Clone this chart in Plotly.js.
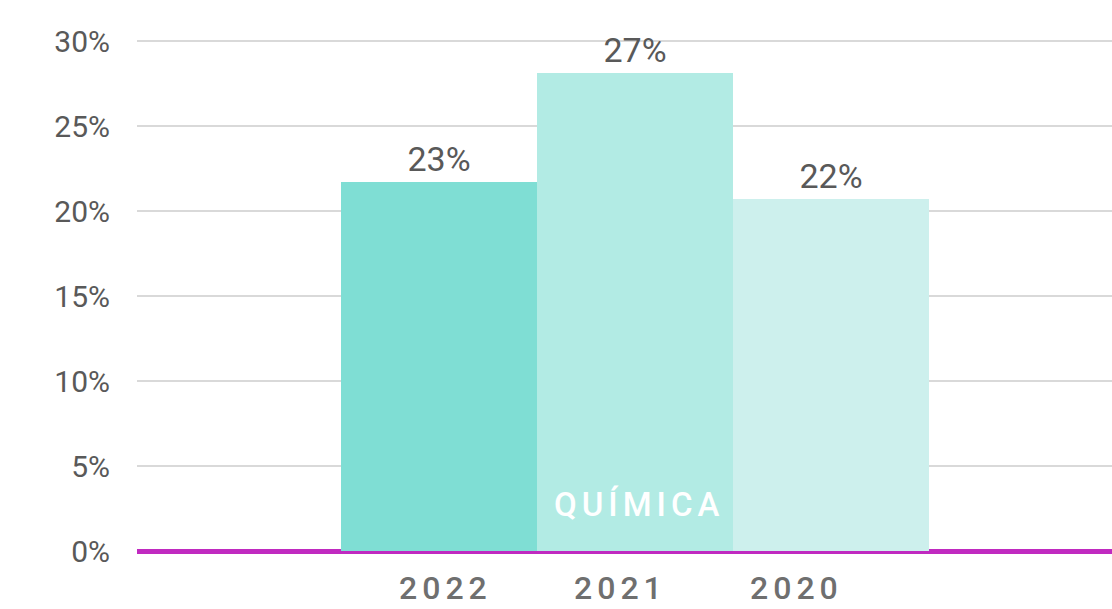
<!DOCTYPE html>
<html>
<head>
<meta charset="utf-8">
<script src="https://cdn.plot.ly/plotly-3.0.1.min.js"></script>
<style>
html,body{margin:0;padding:0;background:#fff;}
#chart{width:1112px;height:609px;}
.annotation-text{letter-spacing:5px;}
#err{position:absolute;left:0;top:0;color:red;font:12px monospace;}
</style>
</head>
<body>
<div id="chart"></div>
<div id="err"></div>
<script>
// Data
const years = ["2022", "2021", "2020"];
const values = [21.7, 28.1, 20.7];
const valueLabels = ["23%", "27%", "22%"];
const barColors = ["#7fded4", "#b2ebe4", "#cdf0ed"];
const categoryLabel = "QUÍMICA";
const yTickVals = [0, 5, 10, 15, 20, 25, 30];
const yTickText = ["0%", "5%", "10%", "15%", "20%", "25%", "30%"];
const yearLabelShift = [6, -14, -34];

try {
const trace = {
  type: "bar",
  x: years,
  y: values,
  text: valueLabels,
  textposition: "outside",
  cliponaxis: false,
  textfont: {family: "Roboto", size: 34, color: "#595959"},
  marker: {color: barColors, line: {width: 0}},
  width: 1,
  hoverinfo: "none"
};

const annotations = years.map((yr, i) => ({
  xref: "x", yref: "paper",
  x: i, y: 0,
  xshift: yearLabelShift[i], yshift: -37,
  yanchor: "middle", xanchor: "center",
  text: yr, showarrow: false, borderpad: 0,
  font: {family: "Roboto", size: 32, color: "#6f6f6f", weight: 500}
}));
annotations.push({
  xref: "x", yref: "paper",
  x: 1, y: 0,
  xshift: 4, yshift: 47,
  yanchor: "middle", xanchor: "center",
  text: categoryLabel, showarrow: false,
  font: {family: "Roboto", size: 33, color: "#ffffff", weight: 500}
});

const layout = {
  width: 1112, height: 609,
  margin: {l: 137, r: 0, t: 36, b: 58, pad: 0},
  paper_bgcolor: "#ffffff",
  plot_bgcolor: "#ffffff",
  showlegend: false,
  bargap: 0,
  xaxis: {
    type: "category",
    range: [-1.541, 3.434],
    showticklabels: false,
    showgrid: false,
    zeroline: false,
    showline: false,
    fixedrange: true
  },
  yaxis: {
    range: [0, 30.3],
    tickvals: yTickVals,
    ticktext: yTickText,
    tickfont: {family: "Roboto", size: 30, color: "#595959"},
    showgrid: true,
    gridcolor: "#d9d9d9",
    gridwidth: 2,
    zeroline: true,
    zerolinecolor: "#c02ac0",
    zerolinewidth: 5,
    showline: false,
    ticks: "",
    ticklabelstandoff: 26,
    fixedrange: true
  },
  annotations: annotations
};

Plotly.newPlot("chart", [trace], layout, {displayModeBar: false}).catch(e => {
  document.getElementById("err").textContent = String(e);
});
} catch (e) {
  document.getElementById("err").textContent = String(e);
}
</script>
</body>
</html>
